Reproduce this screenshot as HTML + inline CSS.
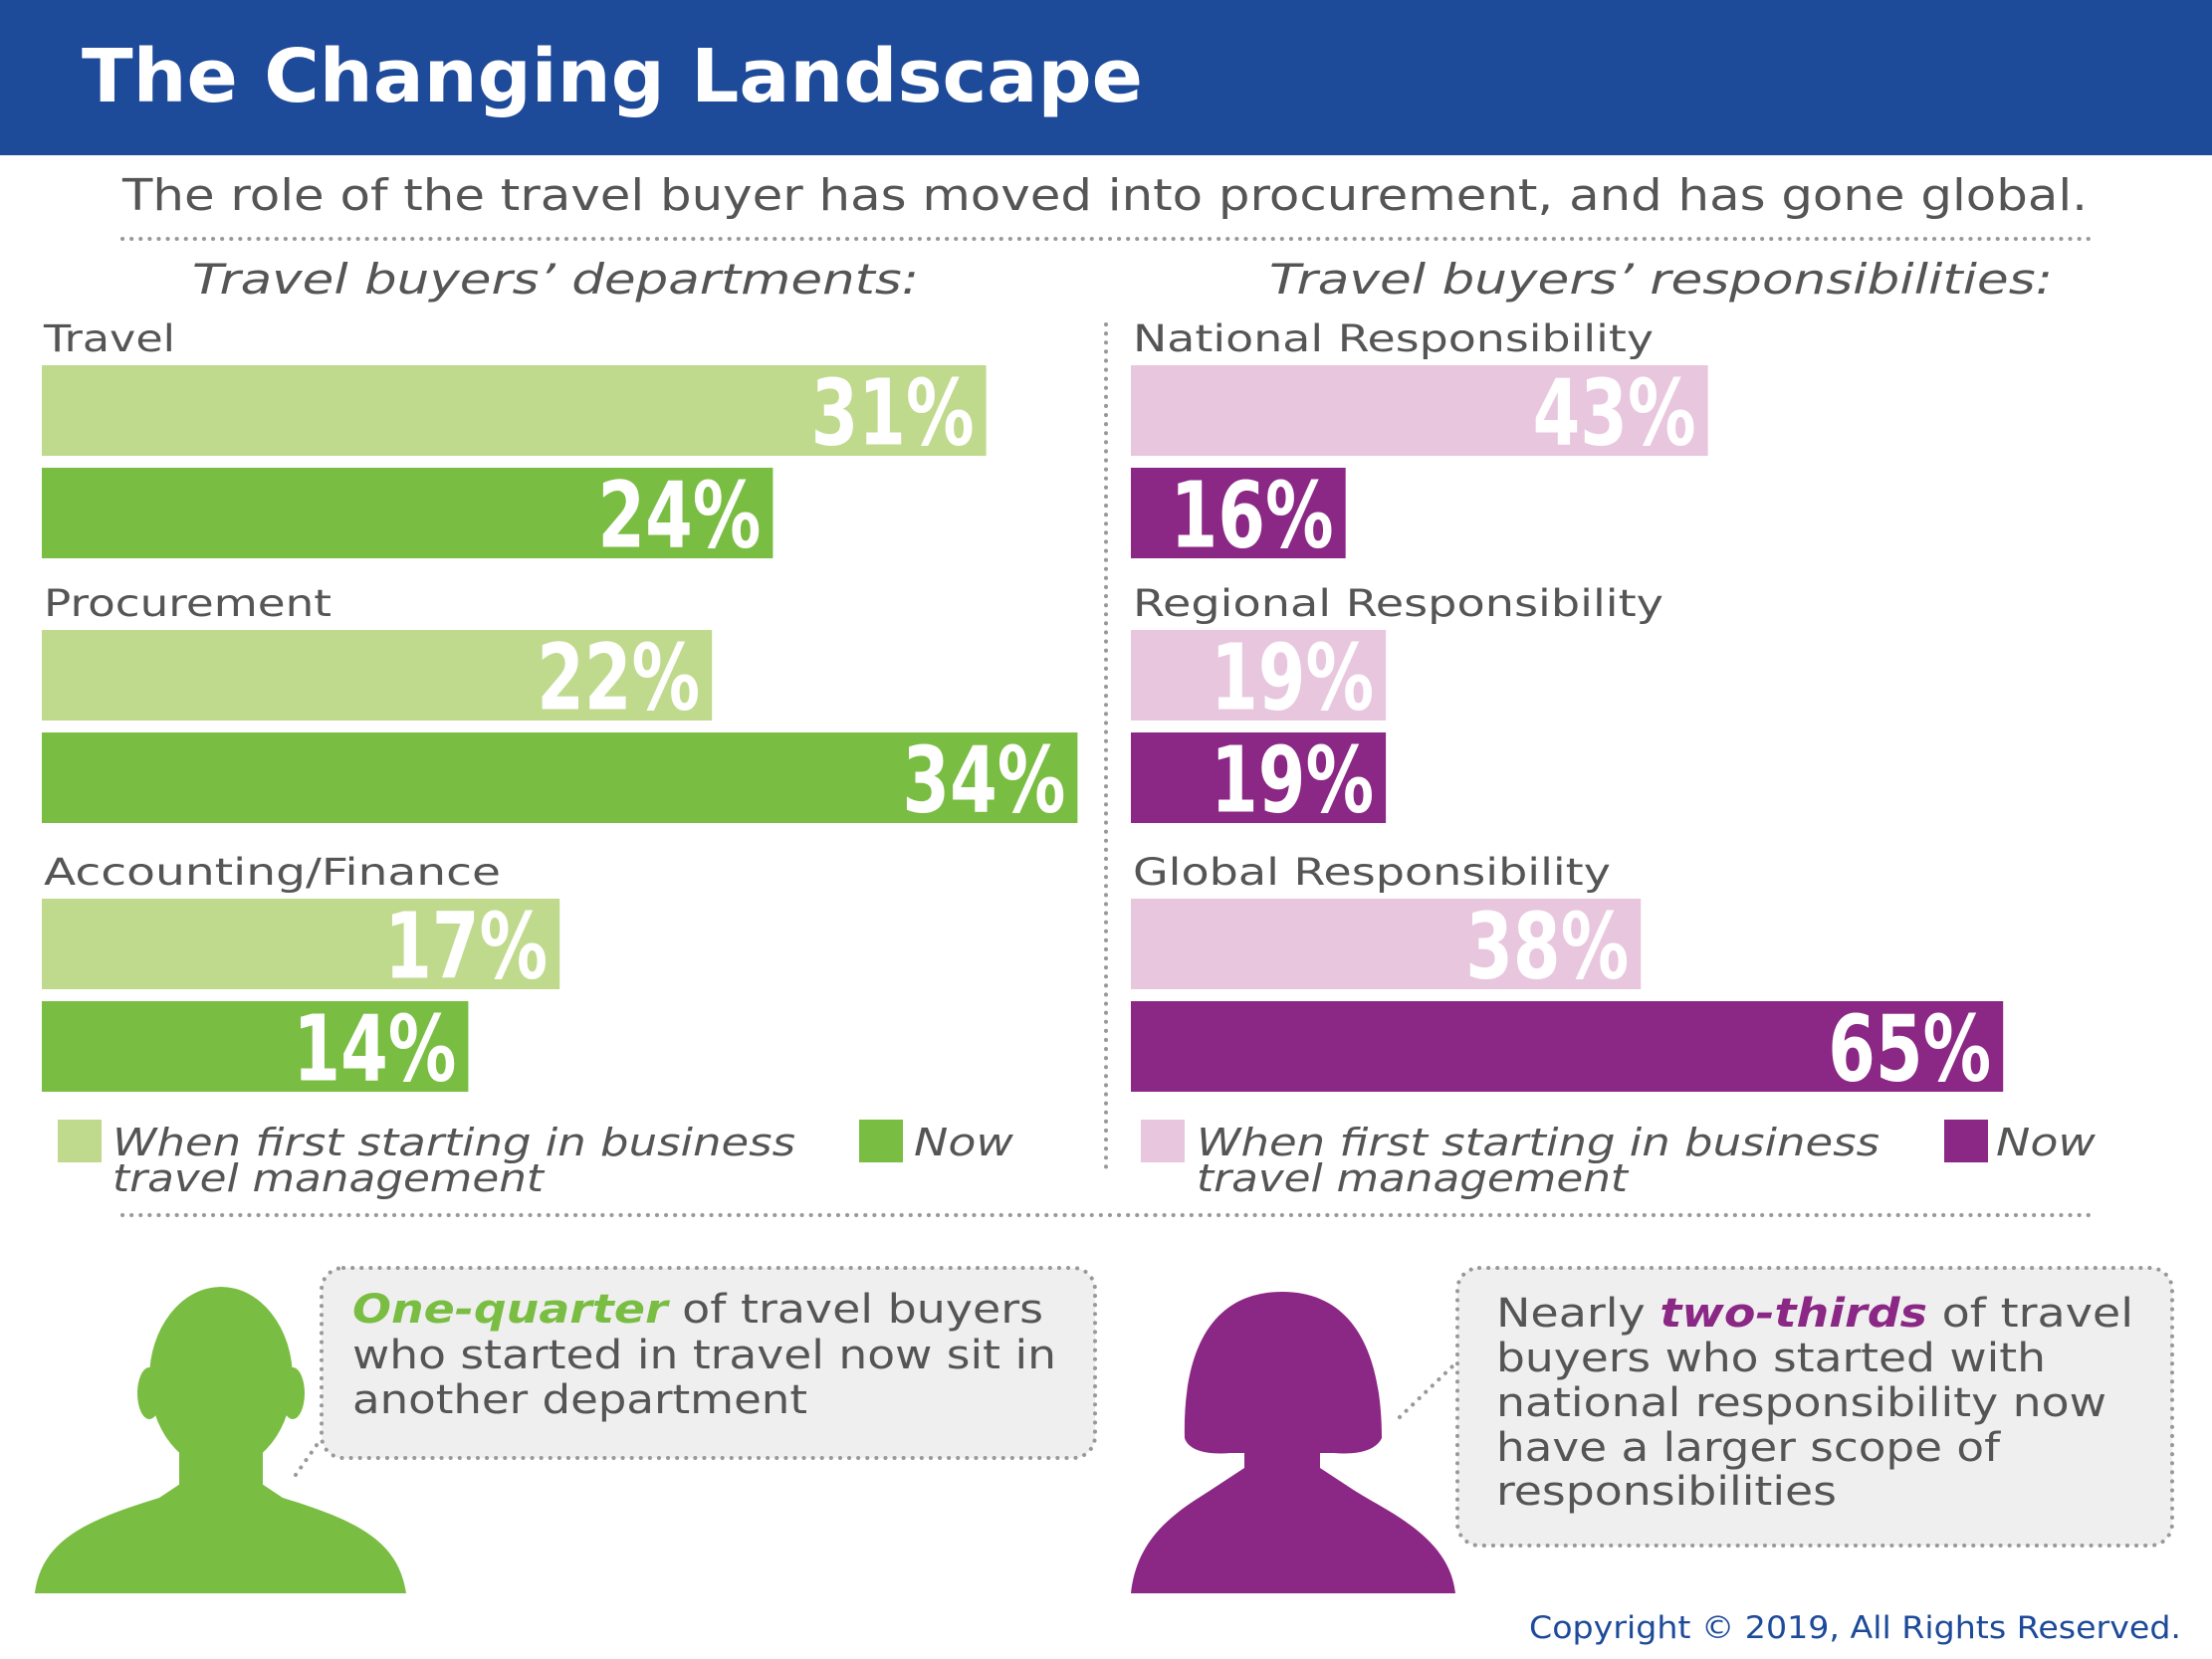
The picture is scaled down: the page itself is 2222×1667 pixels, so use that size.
<!DOCTYPE html>
<html><head><meta charset="utf-8"><style>
html,body{margin:0;padding:0;background:#fff}
svg{display:block}
text{font-family:"DejaVu Sans","Liberation Sans",sans-serif}
</style></head><body>
<svg id="c" width="2222" height="1667" viewBox="0 0 2222 1667" xmlns="http://www.w3.org/2000/svg">
<rect x="0" y="0" width="2222" height="156" fill="#1e4a9a"/>
<text x="82" y="102" font-size="74" font-weight="bold" fill="#fff" textLength="1066" lengthAdjust="spacingAndGlyphs">The Changing Landscape</text>
<text x="123" y="211" font-size="44" fill="#555" textLength="1974" lengthAdjust="spacingAndGlyphs">The role of the travel buyer has moved into procurement, and has gone global.</text>
<line x1="123" y1="240" x2="2100" y2="240" stroke="#999" stroke-width="4" stroke-dasharray="0.1 9" stroke-linecap="round"/>
<text x="193" y="295" font-size="42" font-style="italic" fill="#555" textLength="730" lengthAdjust="spacingAndGlyphs">Travel buyers’ departments:</text>
<text x="1275" y="295" font-size="42" font-style="italic" fill="#555" textLength="787" lengthAdjust="spacingAndGlyphs">Travel buyers’ responsibilities:</text>
<line x1="1111" y1="326" x2="1111" y2="1178" stroke="#999" stroke-width="4" stroke-dasharray="0.1 9" stroke-linecap="round"/>
<g id="bars"></g>
<rect x="58" y="1125" width="44" height="43" fill="#bfda8d"/>
<text x="113" y="1161" font-size="38" font-style="italic" fill="#555" textLength="686" lengthAdjust="spacingAndGlyphs">When first starting in business</text>
<text x="113" y="1197" font-size="38" font-style="italic" fill="#555" textLength="433" lengthAdjust="spacingAndGlyphs">travel management</text>
<rect x="863" y="1125" width="44" height="43" fill="#7abd43"/>
<text x="918" y="1161" font-size="38" font-style="italic" fill="#555" textLength="100" lengthAdjust="spacingAndGlyphs">Now</text>
<rect x="1146" y="1125" width="44" height="43" fill="#e8c7de"/>
<text x="1202" y="1161" font-size="38" font-style="italic" fill="#555" textLength="686" lengthAdjust="spacingAndGlyphs">When first starting in business</text>
<text x="1202" y="1197" font-size="38" font-style="italic" fill="#555" textLength="433" lengthAdjust="spacingAndGlyphs">travel management</text>
<rect x="1953" y="1125" width="44" height="43" fill="#8b2785"/>
<text x="2005" y="1161" font-size="38" font-style="italic" fill="#555" textLength="100" lengthAdjust="spacingAndGlyphs">Now</text>
<line x1="123" y1="1221" x2="2100" y2="1221" stroke="#999" stroke-width="4" stroke-dasharray="0.1 9" stroke-linecap="round"/>
<g fill="#7abd43">
<ellipse cx="222" cy="1385" rx="72" ry="92"/>
<ellipse cx="150" cy="1400" rx="12" ry="26"/><ellipse cx="294" cy="1400" rx="12" ry="26"/>
<rect x="180" y="1440" width="84" height="60"/>
<path d="M35,1601 C42,1548 85,1528 160,1505 L190,1485 L254,1485 L284,1505 C359,1528 400,1548 408,1601 Z"/>
</g>
<line x1="297" y1="1482" x2="323" y2="1445" stroke="#999" stroke-width="4" stroke-dasharray="0.1 9" stroke-linecap="round"/>
<rect x="323" y="1274" width="777" height="191" rx="22" fill="#efefef" stroke="#999" stroke-width="4" stroke-dasharray="0.1 9" stroke-linecap="round"/>
<text x="354" y="1329" font-size="40" fill="#555" textLength="694" lengthAdjust="spacingAndGlyphs"><tspan font-weight="bold" font-style="italic" fill="#7abd43">One-quarter</tspan> of travel buyers</text>
<text x="354" y="1375" font-size="40" fill="#555" textLength="707" lengthAdjust="spacingAndGlyphs">who started in travel now sit in</text>
<text x="354" y="1420" font-size="40" fill="#555" textLength="457" lengthAdjust="spacingAndGlyphs">another department</text>
<g fill="#8b2785">
<path d="M1190,1445 C1188,1360 1215,1298 1288,1298 C1360,1298 1388,1360 1388,1445 C1382,1458 1362,1462 1340,1460 L1236,1460 C1214,1462 1194,1458 1190,1445 Z"/>
<rect x="1250" y="1440" width="76" height="45"/>
<path d="M1136,1601 C1142,1545 1180,1520 1215,1498 L1250,1475 L1326,1475 L1361,1498 C1396,1520 1456,1545 1462,1601 Z"/>
</g>
<line x1="1406" y1="1424" x2="1460" y2="1372" stroke="#999" stroke-width="4" stroke-dasharray="0.1 9" stroke-linecap="round"/>
<rect x="1464" y="1274" width="718" height="279" rx="22" fill="#efefef" stroke="#999" stroke-width="4" stroke-dasharray="0.1 9" stroke-linecap="round"/>
<text x="1503" y="1333" font-size="40" fill="#555" textLength="640" lengthAdjust="spacingAndGlyphs">Nearly <tspan font-weight="bold" font-style="italic" fill="#8b2785">two-thirds</tspan> of travel</text>
<text x="1503" y="1378" font-size="40" fill="#555" textLength="552" lengthAdjust="spacingAndGlyphs">buyers who started with</text>
<text x="1503" y="1423" font-size="40" fill="#555" textLength="613" lengthAdjust="spacingAndGlyphs">national responsibility now</text>
<text x="1503" y="1468" font-size="40" fill="#555" textLength="506" lengthAdjust="spacingAndGlyphs">have a larger scope of</text>
<text x="1503" y="1512" font-size="40" fill="#555" textLength="342" lengthAdjust="spacingAndGlyphs">responsibilities</text>
<text x="2191" y="1646" font-size="31" fill="#1e4a9a" text-anchor="end" textLength="655" lengthAdjust="spacingAndGlyphs">Copyright © 2019, All Rights Reserved.</text>
</svg>
<script>
const leftCategories = ["Travel", "Procurement", "Accounting/Finance"];
const leftFirst = [31, 22, 17];
const leftNow = [24, 34, 14];
const rightCategories = ["National Responsibility", "Regional Responsibility", "Global Responsibility"];
const rightFirst = [43, 19, 38];
const rightNow = [16, 19, 65];

const labelWidth = {"Travel": 132, "Procurement": 289, "Accounting/Finance": 459,
  "National Responsibility": 523, "Regional Responsibility": 533, "Global Responsibility": 480};

const NS = "http://www.w3.org/2000/svg";
const g = document.getElementById("bars");
function mk(tag, attrs) {
  const e = document.createElementNS(NS, tag);
  for (const k in attrs) e.setAttribute(k, attrs[k]);
  g.appendChild(e);
  return e;
}
const groupTop = [340, 606, 876];
function panel(side, cats, first, now, x0, pxPer, cLight, cDark) {
  cats.forEach((cat, i) => {
    const top = groupTop[i];
    const attrs = {x: x0 + 2, y: top + 13, "font-size": 37, fill: "#555", lengthAdjust: "spacingAndGlyphs"};
    if (labelWidth[cat]) attrs.textLength = labelWidth[cat];
    const lab = mk("text", attrs);
    lab.textContent = cat;
    
    
    [[first[i], cLight, 27, 'first'], [now[i], cDark, 130, 'now']].forEach(([v, col, dy, kind]) => {
      const y = top + dy, h = 91, w = v * pxPer;
      const r = mk("rect", {x: x0, y: y, width: w, height: h, fill: col});
      
      
      const t = mk("text", {x: x0 + w - 12, y: y + h / 2 + 34, "font-size": 92, "font-weight": "bold", fill: "#fff", "text-anchor": "end", textLength: 164, lengthAdjust: "spacingAndGlyphs"});
      t.textContent = v + "%";
      
      
    });
  });
}
panel('left', leftCategories, leftFirst, leftNow, 42, 30.6, "#bfda8d", "#7abd43");
panel('right', rightCategories, rightFirst, rightNow, 1136, 13.48, "#e8c7de", "#8b2785");
</script>
</body></html>
